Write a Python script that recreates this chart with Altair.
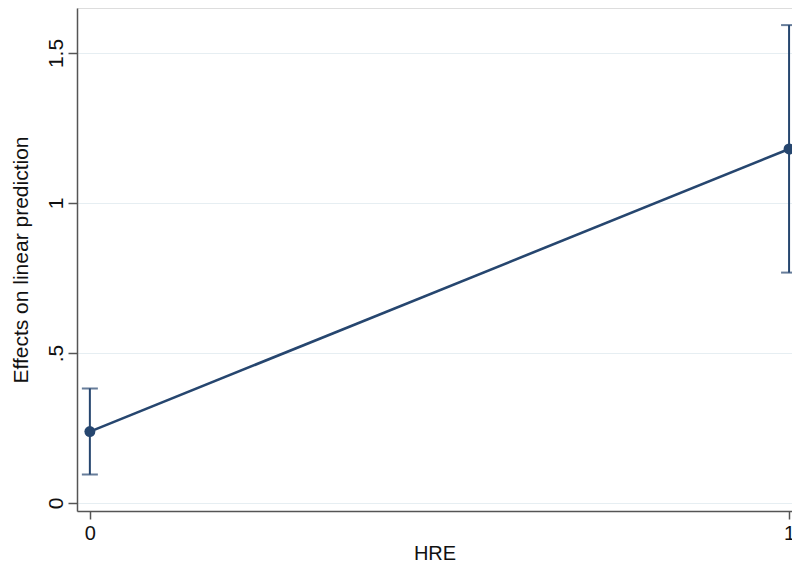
import altair as alt
import pandas as pd

hre = [0, 1]
margin = [0.238, 1.180]
ci_lo = [0.095, 0.768]
ci_hi = [0.382, 1.593]

df = pd.DataFrame({"HRE": hre, "margin": margin, "lo": ci_lo, "hi": ci_hi})

NAVY = "#26466f"
FONT = "Liberation Sans"

xs = alt.Scale(domain=[-0.0184, 1.0042], nice=False, zero=False)
ys = alt.Scale(domain=[-0.0267, 1.65], nice=False, zero=False)

x_axis = alt.Axis(values=[0, 1], format="d", grid=False, title="HRE",
                  labelFontSize=20, titleFontSize=20, tickSize=8,
                  labelPadding=4, titlePadding=0, labelFont=FONT, titleFont=FONT,
                  titleFontWeight="normal", labelColor="#111", titleColor="#111",
                  domainColor="#555", tickColor="#555", domainWidth=1.5, tickWidth=1.5,
                  labelFlush=False, labelOverlap=False)
y_axis = alt.Axis(values=[0, 0.5, 1, 1.5], format="~g",
                  labelExpr="datum.value == 0.5 ? '.5' : datum.label",
                  grid=True, gridColor="#e6eef2", gridWidth=1.2,
                  title="Effects on linear prediction", labelAngle=270,
                  labelFontSize=21, titleFontSize=21, tickSize=9, labelPadding=2,
                  titlePadding=14, labelFont=FONT, titleFont=FONT,
                  titleFontWeight="normal", labelColor="#111", titleColor="#111",
                  domainColor="#555", tickColor="#555", domainWidth=1.5, tickWidth=1.5)

base = alt.Chart(df)

line = base.mark_line(color=NAVY, strokeWidth=2.6).encode(
    x=alt.X("HRE:Q", scale=xs, axis=x_axis),
    y=alt.Y("margin:Q", scale=ys, axis=y_axis),
)
rule = base.mark_rule(color=NAVY, strokeWidth=2).encode(
    x=alt.X("HRE:Q", scale=xs), y=alt.Y("lo:Q", scale=ys), y2="hi:Q"
)
cap_lo = base.mark_tick(color=NAVY, orient="horizontal", size=16, thickness=2).encode(
    x=alt.X("HRE:Q", scale=xs), y=alt.Y("lo:Q", scale=ys)
)
cap_hi = base.mark_tick(color=NAVY, orient="horizontal", size=16, thickness=2).encode(
    x=alt.X("HRE:Q", scale=xs), y=alt.Y("hi:Q", scale=ys)
)
pts = base.mark_point(color=NAVY, filled=True, opacity=1, size=120, shape="circle").encode(
    x=alt.X("HRE:Q", scale=xs), y=alt.Y("margin:Q", scale=ys)
)

chart = alt.layer(line, rule, cap_lo, cap_hi, pts).properties(
    width=715, height=503,
    autosize=alt.AutoSizeParams(type="none"),
    padding={"left": 69, "top": 0, "right": 0, "bottom": 50},
).configure_view(stroke=None).configure(background="white")

chart.save("out.html", embed_options={"renderer": "svg", "actions": False})
